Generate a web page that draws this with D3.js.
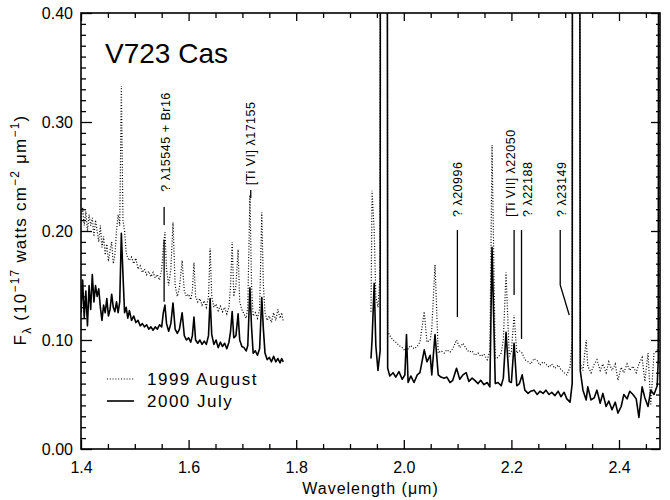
<!DOCTYPE html>
<html>
<head>
<meta charset="utf-8">
<script src="https://cdn.jsdelivr.net/npm/d3@7"></script>
<style>
  body { margin: 0; background: #fff; }
  text { font-family: "Liberation Sans", Arial, sans-serif; fill: #000; }
</style>
</head>
<body>
<script>
// ---- data (wavelength in micron, flux in 1e-17 W cm-2 um-1) ----
var waveLeft = [1.400, 1.403, 1.406, 1.409, 1.412, 1.415, 1.418, 1.421, 1.424, 1.427,
  1.430, 1.433, 1.436, 1.439, 1.442, 1.445, 1.448, 1.451, 1.454, 1.457,
  1.460, 1.463, 1.466, 1.469, 1.472, 1.475, 1.478, 1.481, 1.484, 1.487,
  1.490, 1.494, 1.498, 1.502, 1.506, 1.510, 1.514, 1.518, 1.522, 1.526,
  1.530, 1.534, 1.538, 1.542, 1.546, 1.550, 1.553, 1.556, 1.559, 1.563,
  1.567, 1.571, 1.575, 1.579, 1.583, 1.588, 1.592, 1.596, 1.600, 1.604,
  1.607, 1.610, 1.613, 1.617, 1.621, 1.625, 1.629, 1.633, 1.637, 1.640,
  1.643, 1.647, 1.651, 1.655, 1.659, 1.663, 1.667, 1.671, 1.675, 1.678,
  1.681, 1.684, 1.688, 1.692, 1.695, 1.699, 1.703, 1.707, 1.710, 1.714,
  1.717, 1.720, 1.724, 1.728, 1.732, 1.736, 1.739, 1.742, 1.746, 1.750,
  1.754, 1.758, 1.762, 1.766, 1.770, 1.773, 1.776];

var julyLeft = [0.125, 0.155, 0.120, 0.145, 0.113, 0.150, 0.128, 0.160, 0.135, 0.150,
  0.140, 0.147, 0.130, 0.118, 0.132, 0.125, 0.138, 0.122, 0.128, 0.142,
  0.130, 0.126, 0.135, 0.125, 0.135, 0.198, 0.160, 0.125, 0.130, 0.120,
  0.127, 0.118, 0.122, 0.116, 0.118, 0.113, 0.115, 0.112, 0.114, 0.110,
  0.112, 0.109, 0.112, 0.110, 0.114, 0.112, 0.125, 0.132, 0.115, 0.108,
  0.115, 0.134, 0.110, 0.106, 0.110, 0.125, 0.104, 0.100, 0.102, 0.098,
  0.104, 0.121, 0.100, 0.097, 0.100, 0.096, 0.099, 0.096, 0.104, 0.138,
  0.105, 0.096, 0.100, 0.093, 0.098, 0.094, 0.097, 0.092, 0.098, 0.108,
  0.126, 0.102, 0.104, 0.124, 0.100, 0.094, 0.093, 0.090, 0.095, 0.148,
  0.112, 0.088, 0.090, 0.086, 0.092, 0.139, 0.110, 0.088, 0.082, 0.084,
  0.080, 0.085, 0.080, 0.083, 0.079, 0.083, 0.080];

var augLeft = [0.210, 0.222, 0.205, 0.218, 0.200, 0.215, 0.205, 0.212, 0.195, 0.210,
  0.200, 0.190, 0.205, 0.185, 0.195, 0.178, 0.188, 0.172, 0.182, 0.190,
  0.170, 0.178, 0.200, 0.215, 0.205, 0.333, 0.210, 0.200, 0.180, 0.175,
  0.173, 0.176, 0.170, 0.175, 0.165, 0.168, 0.162, 0.165, 0.160, 0.163,
  0.158, 0.162, 0.157, 0.160, 0.155, 0.165, 0.185, 0.199, 0.165, 0.150,
  0.165, 0.208, 0.150, 0.140, 0.148, 0.173, 0.145, 0.140, 0.142, 0.137,
  0.145, 0.171, 0.140, 0.135, 0.138, 0.132, 0.136, 0.130, 0.140, 0.184,
  0.140, 0.130, 0.133, 0.127, 0.131, 0.126, 0.130, 0.124, 0.130, 0.150,
  0.190, 0.140, 0.150, 0.183, 0.135, 0.128, 0.124, 0.120, 0.130, 0.233,
  0.150, 0.122, 0.125, 0.120, 0.128, 0.217, 0.150, 0.125, 0.118, 0.122,
  0.116, 0.125, 0.118, 0.128, 0.120, 0.125, 0.117];

var waveRight = [1.939, 1.941, 1.945, 1.948, 1.952, 1.956, 1.958, 1.967, 1.970, 1.974,
  1.980, 1.985, 1.991, 1.997, 2.002, 2.005, 2.008, 2.013, 2.019, 2.025,
  2.030, 2.038, 2.043, 2.049, 2.052, 2.058, 2.064, 2.069, 2.075, 2.080,
  2.086, 2.091, 2.098, 2.104, 2.110, 2.116, 2.121, 2.127, 2.132, 2.138,
  2.143, 2.149, 2.155, 2.160, 2.164, 2.170, 2.175, 2.181, 2.185, 2.190,
  2.196, 2.200, 2.205, 2.210, 2.215, 2.220, 2.225, 2.231, 2.236, 2.242,
  2.248, 2.253, 2.259, 2.264, 2.270, 2.275, 2.281, 2.287, 2.292, 2.298,
  2.303, 2.309, 2.313, 2.315, 2.324, 2.328, 2.333, 2.339, 2.342, 2.348,
  2.354, 2.359, 2.365, 2.370, 2.376, 2.381, 2.387, 2.393, 2.398, 2.404,
  2.409, 2.415, 2.420, 2.426, 2.432, 2.437, 2.443, 2.448, 2.454, 2.459,
  2.465, 2.471, 2.473, 2.476];

var julyRight = [0.083, 0.100, 0.152, 0.095, 0.072, 0.090, 2.000, 2.000, 0.074, 0.067,
  0.070, 0.066, 0.071, 0.064, 0.068, 0.105, 0.061, 0.067, 0.061, 0.068,
  0.070, 0.091, 0.080, 0.086, 0.068, 0.105, 0.068, 0.066, 0.065, 0.066,
  0.061, 0.063, 0.074, 0.064, 0.068, 0.070, 0.062, 0.065, 0.063, 0.060,
  0.063, 0.059, 0.061, 0.057, 0.185, 0.060, 0.061, 0.058, 0.065, 0.107,
  0.062, 0.061, 0.097, 0.058, 0.060, 0.068, 0.054, 0.051, 0.053, 0.054,
  0.050, 0.053, 0.051, 0.054, 0.050, 0.052, 0.049, 0.053, 0.048, 0.052,
  0.046, 0.043, 0.060, 2.000, 2.000, 0.072, 0.054, 0.045, 0.057, 0.045,
  0.047, 0.054, 0.042, 0.051, 0.039, 0.044, 0.036, 0.043, 0.033, 0.039,
  0.050, 0.046, 0.053, 0.050, 0.046, 0.029, 0.057, 0.047, 0.039, 0.054,
  0.050, 0.058, 0.082, 2.000];

var augRight = [0.126, 0.237, 0.200, 0.140, 0.130, 0.160, 2.000, 2.000, 0.108, 0.104,
  0.100, 0.098, 0.095, 0.093, 0.090, 0.094, 0.092, 0.095, 0.092, 0.094,
  0.098, 0.126, 0.098, 0.100, 0.110, 0.169, 0.088, 0.090, 0.088, 0.091,
  0.089, 0.092, 0.100, 0.093, 0.097, 0.092, 0.089, 0.090, 0.086, 0.088,
  0.085, 0.087, 0.082, 0.090, 0.279, 0.083, 0.084, 0.088, 0.100, 0.162,
  0.085, 0.090, 0.123, 0.088, 0.090, 0.088, 0.082, 0.080, 0.078, 0.083,
  0.081, 0.077, 0.080, 0.078, 0.075, 0.078, 0.074, 0.077, 0.073, 0.070,
  0.068, 0.075, 0.100, 2.000, 2.000, 0.078, 0.072, 0.100, 0.076, 0.070,
  0.078, 0.082, 0.072, 0.078, 0.070, 0.080, 0.072, 0.078, 0.063, 0.075,
  0.070, 0.078, 0.072, 0.076, 0.070, 0.078, 0.084, 0.062, 0.088, 0.040,
  0.088, 0.090, 0.095, 2.000];

var xTicks = [1.4, 1.6, 1.8, 2.0, 2.2, 2.4];
var yTicks = [0.00, 0.10, 0.20, 0.30, 0.40];
var seriesNames = ["1999 August", "2000 July"];
var lineLabels = ["? λ15545 + Br16", "[Ti VI] λ17155", "? λ20996", "[Ti VII] λ22050", "? λ22188", "? λ23149"];
var lineWaves = [1.5545, 1.7155, 2.0996, 2.2050, 2.2188, 2.3149];

// ---- layout ----
var svgWidth = 670;
var svgHeight = 500;
var margin = { top: 13, right: 10, bottom: 51, left: 81 };
var chartWidth = svgWidth - margin.left - margin.right;
var chartHeight = svgHeight - margin.top - margin.bottom;

var svg = d3.select("body")
  .append("svg")
  .attr("width", svgWidth)
  .attr("height", svgHeight);

var chartGroup = svg.append("g")
  .attr("transform", `translate(${margin.left}, ${margin.top})`);

var x = d3.scaleLinear().domain([1.4, 2.4762]).range([0, chartWidth]);
var y = d3.scaleLinear().domain([0, 0.40]).range([chartHeight, 0]);

svg.append("defs").append("clipPath")
  .attr("id", "plotclip")
  .append("rect")
  .attr("width", chartWidth)
  .attr("height", chartHeight);

// ---- axes: all ticks point inward, minor ticks drawn as separate axes ----
var xMinor = d3.range(1.4, 2.4761, 0.05).filter(v => Math.abs(v * 5 - Math.round(v * 5)) > 1e-6);
var yMinor = d3.range(0, 0.4001, 0.01).filter(v => Math.abs(v * 10 - Math.round(v * 10)) > 1e-6);

function styleAxis(g) {
  g.select(".domain").remove();
  g.selectAll("line").attr("stroke", "#000").attr("stroke-width", 1.3);
  g.selectAll("text").attr("font-size", 16).attr("fill", "#000")
    .style("font-family", "'Liberation Sans', Arial, sans-serif");
}

chartGroup.append("g")
  .attr("transform", `translate(0, ${chartHeight})`)
  .call(d3.axisBottom(x).tickValues(xTicks).tickFormat(d3.format(".1f")).tickSizeInner(-9).tickPadding(13))
  .call(styleAxis);
chartGroup.append("g")
  .attr("transform", `translate(0, ${chartHeight})`)
  .call(d3.axisBottom(x).tickValues(xMinor).tickFormat("").tickSizeInner(-5))
  .call(styleAxis);
chartGroup.append("g")
  .call(d3.axisTop(x).tickValues(xTicks).tickFormat("").tickSizeInner(-8))
  .call(styleAxis);
chartGroup.append("g")
  .call(d3.axisTop(x).tickValues(xMinor).tickFormat("").tickSizeInner(-5))
  .call(styleAxis);

chartGroup.append("g")
  .call(d3.axisLeft(y).tickValues(yTicks).tickFormat(d3.format(".2f")).tickSizeInner(-11).tickPadding(8))
  .call(styleAxis);
chartGroup.append("g")
  .call(d3.axisLeft(y).tickValues(yMinor).tickFormat("").tickSizeInner(-5))
  .call(styleAxis);
chartGroup.append("g")
  .attr("transform", `translate(${chartWidth}, 0)`)
  .call(d3.axisRight(y).tickValues(yTicks).tickFormat("").tickSizeInner(-9))
  .call(styleAxis);
chartGroup.append("g")
  .attr("transform", `translate(${chartWidth}, 0)`)
  .call(d3.axisRight(y).tickValues(yMinor).tickFormat("").tickSizeInner(-4))
  .call(styleAxis);

// plot frame
chartGroup.append("rect")
  .attr("width", chartWidth)
  .attr("height", chartHeight)
  .attr("fill", "none")
  .attr("stroke", "#000")
  .attr("stroke-width", 1.6);

// ---- spectra ----
var line = d3.line()
  .x(d => x(d[0]))
  .y(d => y(d[1]));

var dataGroup = chartGroup.append("g").attr("clip-path", "url(#plotclip)");

[[waveLeft, augLeft], [waveRight, augRight]].forEach(function(s) {
  dataGroup.append("path")
    .datum(d3.zip(s[0], s[1]))
    .attr("d", line)
    .attr("fill", "none")
    .attr("stroke", "#000")
    .attr("stroke-width", 1.2)
    .attr("stroke-dasharray", "1,1.8");
});

[[waveLeft, julyLeft], [waveRight, julyRight]].forEach(function(s) {
  dataGroup.append("path")
    .datum(d3.zip(s[0], s[1]))
    .attr("d", line)
    .attr("fill", "none")
    .attr("stroke", "#000")
    .attr("stroke-width", 1.6)
    .attr("stroke-linejoin", "round");
});

// ---- line identifications ----
// label offset in px from the line wavelength, flux at the label's lower end, leader polylines
var labelLayout = [
  { dx: 6, base: 0.236, leaders: [[[0, 0.222], [0, 0.2055]], [[0, 0.192], [0, 0.135]]] },
  { dx: 4, base: 0.242, leaders: [[[0, 0.2376], [0, 0.2303]]] },
  { dx: 5, base: 0.2128, leaders: [[[0, 0.2009], [0, 0.1211]]] },
  { dx: 0.5, base: 0.2128, leaders: [[[0, 0.2009], [0, 0.1413]]] },
  { dx: 10, base: 0.2128, leaders: [[[0, 0.2009], [0, 0.1009]]] },
  { dx: -7, base: 0.2128, leaders: [[[-13, 0.2009], [-13, 0.1505], [-4, 0.1229]]] }
];

lineLabels.forEach(function(label, i) {
  var lx = x(lineWaves[i]);
  var lay = labelLayout[i];
  chartGroup.append("text")
    .attr("transform", `translate(${lx + lay.dx}, ${y(lay.base)}) rotate(-90)`)
    .attr("text-anchor", "start")
    .attr("font-size", 12.5)
    .attr("letter-spacing", 0.5)
    .text(label);
  lay.leaders.forEach(function(pts) {
    chartGroup.append("path")
      .attr("d", d3.line().x(p => lx + p[0]).y(p => y(p[1]))(pts))
      .attr("fill", "none")
      .attr("stroke", "#000")
      .attr("stroke-width", 1.3);
  });
});

// ---- title, legend ----
chartGroup.append("text")
  .attr("x", 105 - margin.left)
  .attr("y", 63 - margin.top)
  .attr("font-size", 28)
  .text("V723 Cas");

var legend = chartGroup.append("g").attr("transform", `translate(${107 - margin.left}, ${379 - margin.top})`);
[0, 1].forEach(function(i) {
  legend.append("line")
    .attr("x1", 0).attr("x2", 27)
    .attr("y1", i * 22).attr("y2", i * 22)
    .attr("stroke", "#000")
    .attr("stroke-width", i === 0 ? 1.2 : 1.6)
    .attr("stroke-dasharray", i === 0 ? "1,1.8" : null);
  legend.append("text")
    .attr("x", 40)
    .attr("y", i * 22 + 6)
    .attr("font-size", 17)
    .attr("letter-spacing", 1.5)
    .text(seriesNames[i]);
});

// axis titles
svg.append("text")
  .attr("x", margin.left + chartWidth / 2)
  .attr("y", 494)
  .attr("text-anchor", "middle")
  .attr("font-size", 16)
  .attr("letter-spacing", 1)
  .text("Wavelength (μm)");

var yTitle = svg.append("text")
  .attr("transform", "translate(26, 230) rotate(-90)")
  .attr("text-anchor", "middle")
  .attr("font-size", 17)
  .attr("letter-spacing", 1.2);
yTitle.append("tspan").text("F");
yTitle.append("tspan").attr("font-size", 12).attr("dy", 5).text("λ");
yTitle.append("tspan").attr("dy", -5).text(" (10");
yTitle.append("tspan").attr("font-size", 12).attr("dy", -7).text("−17");
yTitle.append("tspan").attr("dy", 7).text(" watts cm");
yTitle.append("tspan").attr("font-size", 12).attr("dy", -7).text("−2");
yTitle.append("tspan").attr("dy", 7).text(" μm");
yTitle.append("tspan").attr("font-size", 12).attr("dy", -7).text("−1");
yTitle.append("tspan").attr("dy", 7).text(")");
</script>
</body>
</html>
